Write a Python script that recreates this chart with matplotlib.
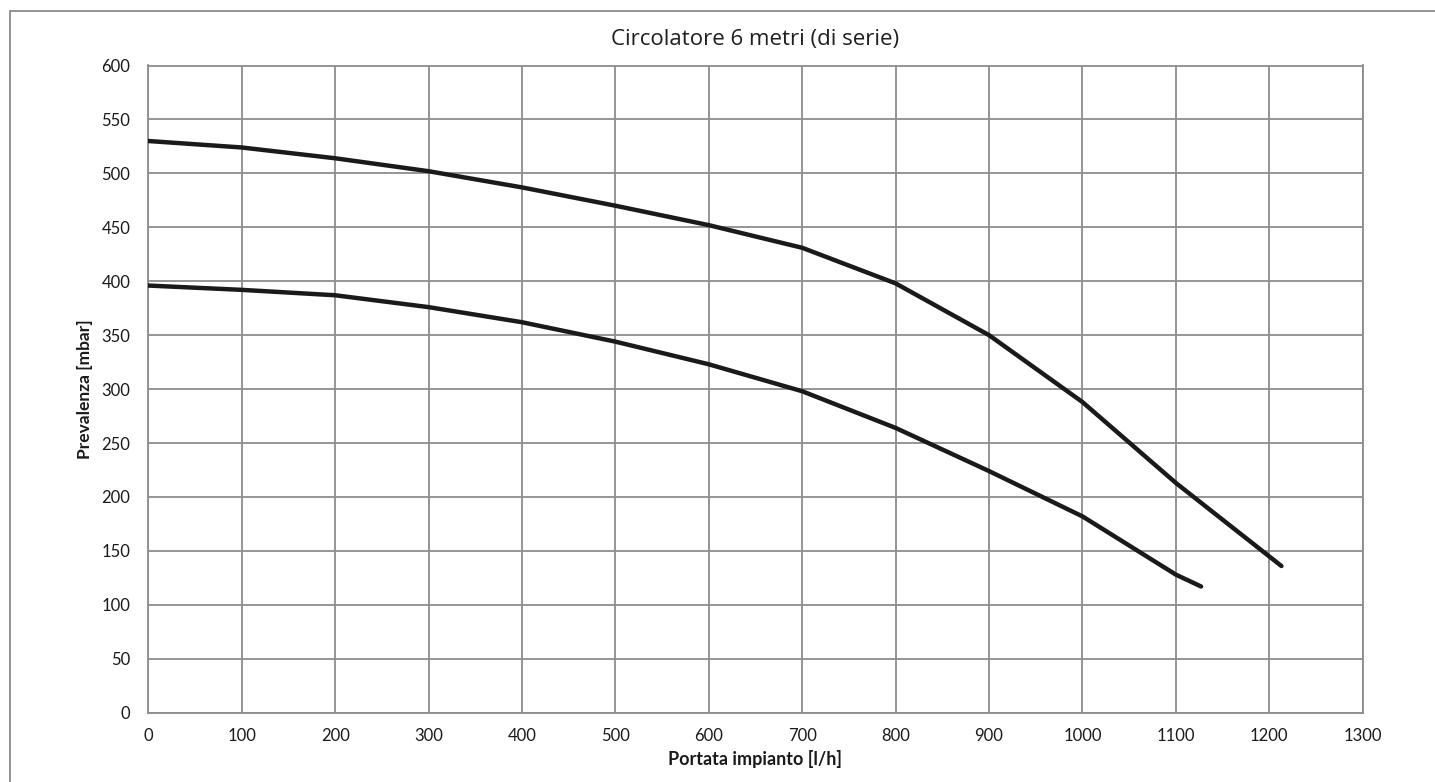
import matplotlib
matplotlib.use("Agg")
import matplotlib.pyplot as plt
from matplotlib.patches import Rectangle

flow_upper = [0, 100, 200, 300, 400, 500, 600, 700, 800, 900, 1000, 1100, 1213]
head_upper = [530, 524, 514, 502, 487, 470, 452, 431, 398, 350, 288, 213, 136]
flow_lower = [0, 100, 200, 300, 400, 500, 600, 700, 800, 900, 1000, 1100, 1127]
head_lower = [396, 392, 387, 376, 362, 344, 323, 298, 264, 224, 182, 128, 117]
x_ticks = list(range(0, 1301, 100))
y_ticks = list(range(0, 601, 50))
title = "Circolatore 6 metri (di serie)"
xlabel = "Portata impianto [l/h]"
ylabel = "Prevalenza [mbar]"

W, H = 1435, 782
fig = plt.figure(figsize=(W / 100, H / 100), dpi=100)
fig.patch.set_facecolor("white")

# outer chart frame
fig.patches.append(Rectangle((10 / W, -0.05), 1.2, 1 - 11 / H + 0.05, transform=fig.transFigure,
                             fill=False, edgecolor="#808080", linewidth=1.2))

left, right, top, bottom = 148.3 / W, 1362.7 / W, 1 - 65.5 / H, 1 - 712.7 / H
ax = fig.add_axes([left, bottom, right - left, top - bottom])

grid_c = "#8c8c8c"
ax.plot(flow_upper, head_upper, color="#1a1a1a", linewidth=3.2, solid_capstyle="round", zorder=3)
ax.plot(flow_lower, head_lower, color="#1a1a1a", linewidth=3.2, solid_capstyle="round", zorder=3)

ax.set_xlim(0, 1300)
ax.set_ylim(0, 600)
ax.set_xticks(x_ticks)
ax.set_yticks(y_ticks)
ax.grid(True, color=grid_c, linewidth=1.3)
ax.set_axisbelow(True)
for s in ax.spines.values():
    s.set_color(grid_c)
    s.set_linewidth(1.3)
ax.tick_params(length=0, labelsize=12, colors="#1a1a1a")
ax.tick_params(axis="y", pad=13)
ax.tick_params(axis="x", pad=11)
for lab in ax.get_xticklabels() + ax.get_yticklabels():
    lab.set_fontfamily(["Lato", "DejaVu Sans"])

ax.set_xlabel(xlabel, fontsize=13, fontweight="bold", family=["Lato", "DejaVu Sans"], labelpad=4, color="#1a1a1a")
ax.set_ylabel(ylabel, fontsize=12.5, fontweight="bold", family=["Lato", "DejaVu Sans"], labelpad=6, color="#1a1a1a")

fig.text((left + right) / 2, 1 - 40 / H, title, ha="center", va="center",
         fontsize=16, family=["Open Sans", "DejaVu Sans"], color="#1f1f1f")

fig.savefig("out.png", dpi=100, facecolor="white")
